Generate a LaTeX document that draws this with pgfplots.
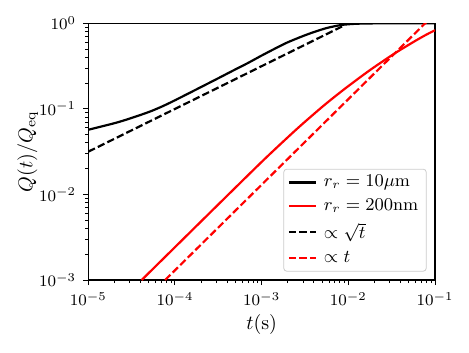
\documentclass[border=0pt]{standalone}
\usepackage{pgfplots}
\pgfplotsset{compat=1.18}
\begin{document}
\begin{tikzpicture}
\useasboundingbox (-44.15pt,-36pt) rectangle (190.35pt,140pt);
\begin{axis}[
  at={(0,0)}, anchor=south west,
  scale only axis, width=173.35pt, height=128.35pt,
  xmode=log, ymode=log,
  xmin=1e-5, xmax=1e-1, ymin=1e-3, ymax=1,
  axis line style={line width=0.65pt},
  tick align=outside, xtick pos=bottom, ytick pos=left,
  major tick length=2.6pt, minor tick length=1.5pt,
  every tick/.style={black, line width=0.5pt},
  tick label style={font=\fontsize{8.1}{9}\selectfont},
  label style={font=\fontsize{9.7}{11}\selectfont},
  xlabel={$t(\mathrm{s})$},
  ylabel={$Q(t)/Q_{\mathrm{eq}}$},
  xlabel style={at={(axis description cs:0.5,-0.175)}, anchor=center},
  ylabel style={at={(axis description cs:-0.175,0.5)}, anchor=center},
  legend cell align=left,
  legend image code/.code={\draw[#1] (0pt,0pt) -- (13.5pt,0pt);},
  legend style={at={(axis description cs:1,0)}, anchor=south east,
    xshift=-4.2pt, yshift=4.2pt, draw=black!20, fill=white,
    fill opacity=0.8, text opacity=1, rounded corners=1.5pt,
    font=\fontsize{8.8}{10}\selectfont, row sep=0.6pt, column sep=1.5pt,
    inner xsep=2pt, inner ysep=1pt},
]
% r_r = 10 um
\addplot[black, line width=1.1pt, smooth, tension=0.5] coordinates {
  (1e-5,0.057) (2e-5,0.068) (3e-5,0.077) (5e-5,0.092) (7e-5,0.106)
  (1e-4,0.126) (2e-4,0.18) (3e-4,0.222) (5e-4,0.29) (7e-4,0.345)
  (1e-3,0.42) (1.5e-3,0.52) (2e-3,0.60) (3e-3,0.71) (4e-3,0.79)
  (5e-3,0.85) (6e-3,0.895) (8e-3,0.95) (1e-2,0.975) (1.3e-2,0.99)
  (2e-2,0.998) (4e-2,1) (1e-1,1)
};
% r_r = 200 nm
\addplot[red, line width=1.1pt, smooth, tension=0.5] coordinates {
  (4.13e-5,0.001) (1e-4,0.00242) (3e-4,0.00725) (1e-3,0.024)
  (2e-3,0.0465) (3e-3,0.0675) (5e-3,0.1056) (7e-3,0.1394) (1e-2,0.1847)
  (1.5e-2,0.2508) (2e-2,0.3087) (3e-2,0.4074) (4e-2,0.491) (6e-2,0.628)
  (8e-2,0.740) (1e-1,0.830)
};
% sqrt(t)
\addplot[black, line width=1.1pt, dash pattern=on 3.7pt off 1.6pt] coordinates {
  (1e-5,0.0316) (8.5e-3,0.92)
};
% t
\addplot[red, line width=1.1pt, dash pattern=on 3.7pt off 1.6pt] coordinates {
  (7.7e-5,0.001) (1e-1,1.3)
};
\legend{$r_r = 10\mu$m, $r_r = 200$nm, $\propto \sqrt{t}$, $\propto t$}
\end{axis}
\end{tikzpicture}
\end{document}
